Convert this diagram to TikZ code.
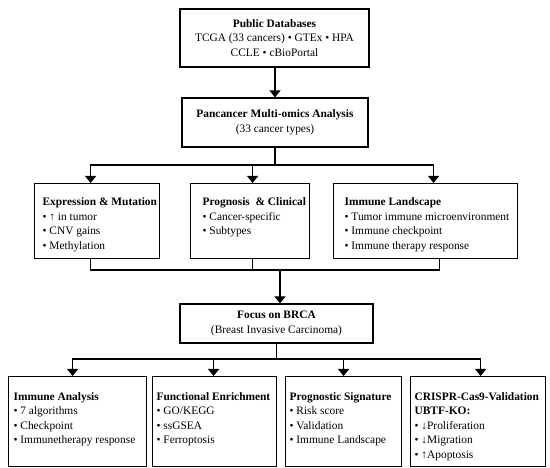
\documentclass[tikz,border=0pt]{standalone}
\usepackage{fontspec}
\setmainfont{Liberation Serif}
\usetikzlibrary{arrows.meta}
\newcommand\boxtext[4]{\begin{minipage}[t][#1pt][t]{#2pt}\raggedright\rule{0pt}{#3pt}#4\end{minipage}}
\newcommand\oneline[1]{\mbox{#1}}
\begin{document}
\begin{tikzpicture}[x=1pt,y=-1pt,
 every node/.style={font=\fontsize{11.4}{14.6}\selectfont},
 cbox/.style={draw, line width=1.2pt, align=center, inner sep=0pt},
 sbox/.style={draw, line width=1.2pt, anchor=north west, inner ysep=0pt},
 conn/.style={line width=1.1pt},
 arr/.style={conn, -{Triangle[width=11pt,length=7pt]}}
]
\useasboundingbox[fill=white] (0,0) rectangle (550,468);

\node[cbox, minimum width=189pt, minimum height=58pt] (pub) at (274.5,38)
  {\textbf{Public Databases}\\TCGA (33 cancers) • GTEx • HPA\\CCLE • cBioPortal};
\node[cbox, minimum width=186pt, minimum height=49pt] (pan) at (275,122.5)
  {\textbf{Pancancer Multi-omics Analysis}\\(33 cancer types)};

\node[sbox, inner xsep=8pt] (expr) at (34,183)
  {\boxtext{75}{109}{22}{\oneline{\textbf{Expression \& Mutation}}\\\oneline{• ↑ in tumor}\\\oneline{• CNV gains}\\\oneline{• Methylation}}};
\node[sbox, inner xsep=12pt] (prog) at (190,183)
  {\boxtext{75}{95}{22}{\oneline{\textbf{Prognosis\ \ \& Clinical}}\\\oneline{• Cancer-specific}\\\oneline{• Subtypes}}};
\node[sbox, inner xsep=11pt] (imm) at (333,183)
  {\boxtext{75}{162}{22}{\oneline{\textbf{Immune Landscape}}\\\oneline{• Tumor immune microenvironment}\\\oneline{• Immune checkpoint}\\\oneline{• Immune therapy response}}};

\node[cbox, minimum width=193pt, minimum height=39pt] (brca) at (276.5,323.5)
  {\textbf{Focus on BRCA}\\(Breast Invasive Carcinoma)};

\node[sbox, inner xsep=5pt] (ia) at (8,376)
  {\boxtext{90}{128}{23.5}{\oneline{\textbf{Immune Analysis}}\\\oneline{• 7 algorithms}\\\oneline{• Checkpoint}\\\oneline{• Immunetherapy response}}};
\node[sbox, inner xsep=4pt] (fe) at (152,376)
  {\boxtext{90}{116}{23.5}{\oneline{\textbf{Functional Enrichment}}\\\oneline{• GO/KEGG}\\\oneline{• ssGSEA}\\\oneline{• Ferroptosis}}};
\node[sbox, inner xsep=4pt] (ps) at (285,376)
  {\boxtext{90}{108}{23.5}{\oneline{\textbf{Prognostic Signature}}\\\oneline{• Risk score}\\\oneline{• Validation}\\\oneline{• Immune Landscape}}};
\node[sbox, inner xsep=4pt] (cr) at (410,376)
  {\boxtext{90}{127}{23.5}{\oneline{\textbf{CRISPR-Cas9-Validation}}\\\oneline{\textbf{UBTF-KO:}}\\\oneline{• ↓Proliferation}\\\oneline{• ↓Migration}\\\oneline{• ↑Apoptosis}}};

% connectors
\draw[arr] (pan.north |- pub.south) -- (pan.north);
\coordinate (s1) at (275,165);
\draw[conn] (pan.south) -- (s1);
\draw[arr] (s1) -| ([xshift=-6.5pt]expr.north);
\draw[arr] (s1) -| ([xshift=2.5pt]prog.north);
\draw[arr] (s1) -| ([xshift=8pt]imm.north);

\coordinate (m) at (280,270);
\draw[conn] ([xshift=-6.5pt]expr.south) |- (m);
\draw[conn] ([xshift=2.5pt]prog.south) |- (m);
\draw[conn] ([xshift=14pt]imm.south) |- (m);
\draw[arr] (m) -- (m |- brca.north);

\coordinate (s2) at (276.5,359);
\draw[conn] (brca.south) -- (s2);
\draw[arr] (s2) -| ([xshift=-5pt]ia.north);
\draw[arr] (s2) -| ([xshift=-1pt]fe.north);
\draw[arr] (s2) -| (ps.north);
\draw[arr] (s2) -| ([xshift=2.5pt]cr.north);
\end{tikzpicture}
\end{document}
